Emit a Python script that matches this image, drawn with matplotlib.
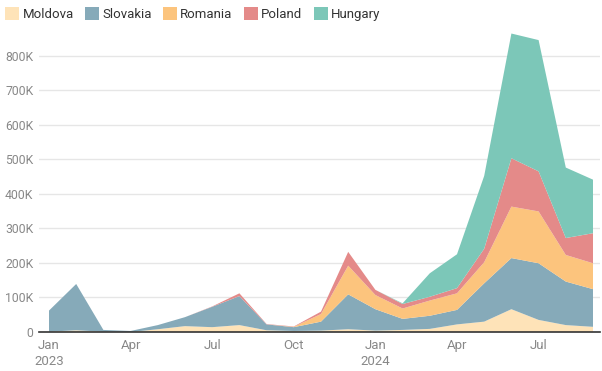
import numpy as np
import matplotlib.pyplot as plt
from matplotlib.patches import Patch
from matplotlib.ticker import FuncFormatter

plt.rcParams['font.family'] = ['Roboto', 'DejaVu Sans']

# Bulan Jan 2023 - Sep 2024 (nilai dalam ribuan)
months = ['2023-01', '2023-02', '2023-03', '2023-04', '2023-05', '2023-06', '2023-07',
          '2023-08', '2023-09', '2023-10', '2023-11', '2023-12', '2024-01', '2024-02',
          '2024-03', '2024-04', '2024-05', '2024-06', '2024-07', '2024-08', '2024-09']
moldova = [1, 5, 1, 0, 8, 17, 14, 20, 5, 3, 4, 8, 4, 6, 9, 22, 30, 66, 35, 20, 15]
slovakia = [61, 134, 5, 3, 12, 26, 59, 84, 17, 11, 26, 101, 62, 32, 38, 42, 111, 148, 164, 126, 109]
romania = [0, 0, 0, 0, 0, 0, 0, 0, 0, 1, 22, 83, 41, 30, 44, 48, 61, 149, 150, 77, 75]
poland = [0, 0, 0, 0, 0, 0, 1, 8, 1, 1, 7, 40, 15, 13, 11, 15, 39, 140, 116, 49, 87]
hungary = [0, 0, 0, 0, 0, 0, 0, 0, 0, 0, 0, 0, 0, 2, 68, 98, 211, 361, 380, 204, 155]

series_names = ['Moldova', 'Slovakia', 'Romania', 'Poland', 'Hungary']
colors = ['#fee3b8', '#86aab9', '#fcc47d', '#e48a89', '#7cc7b8']

tick_pos = [0, 3, 6, 9, 12, 15, 18]
tick_labels = ['Jan\n2023', 'Apr', 'Jul', 'Oct', 'Jan\n2024', 'Apr', 'Jul']

x = np.arange(len(months))
data = np.array([moldova, slovakia, romania, poland, hungary]) * 1000

fig = plt.figure(figsize=(6.02, 3.71), dpi=100)
ax = fig.add_axes([39 / 602, 39 / 371, 561 / 602, 304 / 371])

ax.stackplot(x, data, colors=colors, linewidth=0)

ax.set_xlim(-10 / 27.2, 551 / 27.2)
ax.set_ylim(0, 880000)
ax.set_yticks(np.arange(0, 900000, 100000))
ax.yaxis.set_major_formatter(FuncFormatter(lambda v, p: '0' if v == 0 else f'{int(v / 1000)}K'))
ax.set_xticks(tick_pos)
ax.set_xticklabels(tick_labels)

ax.grid(axis='y', color='#e6e6e6', linewidth=1)
ax.set_axisbelow(True)
for s in ['top', 'right', 'left']:
    ax.spines[s].set_visible(False)
ax.spines['bottom'].set_color('#333333')
ax.spines['bottom'].set_linewidth(1.2)
ax.spines['bottom'].set_zorder(5)
ax.tick_params(axis='both', length=0, labelcolor='#888888')
ax.tick_params(axis='y', pad=4, labelsize=8.8)
ax.tick_params(axis='x', pad=5, labelsize=9.5)
for lab in ax.get_xticklabels():
    lab.set_linespacing(1.3)

handles = [Patch(facecolor=c, edgecolor='none') for c in colors]
fig.legend(handles, series_names, loc='upper left', bbox_to_anchor=(0, 1 - 2 / 371),
           ncol=5, frameon=False, fontsize=9.5, handlelength=1.06, handleheight=1.06,
           handletextpad=0.25, columnspacing=0.85, borderaxespad=0,
           labelcolor='#333333')

fig.savefig('out.png', dpi=100)
